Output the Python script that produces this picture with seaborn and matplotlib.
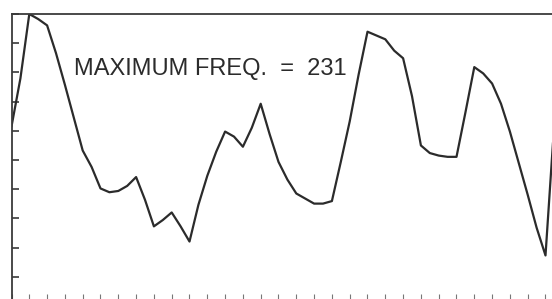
import numpy as np
import pandas as pd
import matplotlib
matplotlib.use("Agg")
import matplotlib.pyplot as plt
import seaborn as sns

# frequency, one value per half tick step
freq = [142, 180, 231, 227, 222, 200, 175, 149, 123, 110,
        93, 90, 91, 95, 102, 84, 63, 68, 74, 63,
        51, 80, 103, 122, 138, 134, 126, 141, 160, 136,
        114, 100, 89, 85, 81, 81, 83, 114, 146, 183,
        217, 214, 211, 202, 196, 166, 127, 121, 119, 118,
        118, 153, 189, 184, 176, 160, 138, 113, 88, 62,
        40, 146]
max_freq = 231
label = "MAXIMUM FREQ.  =  231"

df = pd.DataFrame({"step": np.arange(len(freq)), "freq": freq})

sns.set_style("white")
plt.rcParams["font.family"] = ["Liberation Sans", "DejaVu Sans"]

W, H = 552, 299
fig = plt.figure(figsize=(W / 100, H / 100), dpi=100)
ax = fig.add_axes([11.5 / W, -7 / H, 551.8 / W, 292 / H])

sns.lineplot(data=df, x="step", y="freq", ax=ax, color="#2b2b2b",
             linewidth=1.6)

ax.set_xlim(0, 62)
ax.set_ylim(0, max_freq)
ax.set_xticks(np.arange(0, 62, 2))
ax.set_yticks(np.linspace(0, max_freq, 11))
ax.set_xticklabels([])
ax.set_yticklabels([])
ax.set_xlabel("")
ax.set_ylabel("")
ax.tick_params(axis="y", direction="in", length=5, width=1.2, color="#3a3a3a", left=True)
ax.tick_params(axis="x", direction="in", length=9, width=0.8, color="#777777", bottom=True)
for s in ["left", "top"]:
    ax.spines[s].set_color("#3a3a3a")
    ax.spines[s].set_linewidth(1.3)
ax.spines["right"].set_visible(False)
ax.spines["bottom"].set_visible(False)

ax.text(7.0, 182.7, label, fontsize=17, color="#2b2b2b", ha="left", va="baseline")

fig.savefig("out.png", dpi=100)
